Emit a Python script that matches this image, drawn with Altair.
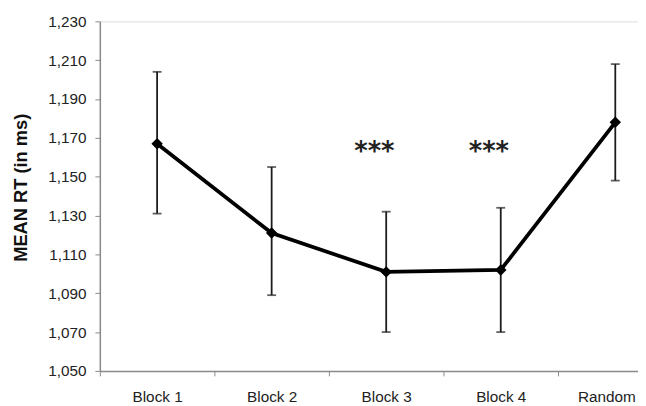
import altair as alt
import pandas as pd

categories = ["Block 1", "Block 2", "Block 3", "Block 4", "Random"]
mean_rt = [1167, 1121, 1101, 1102, 1178]
ci_low = [1131, 1089, 1070, 1070, 1148]
ci_high = [1204, 1155, 1132, 1134, 1208]
y_ticks = [1050, 1070, 1090, 1110, 1130, 1150, 1170, 1190, 1210, 1230]
sig_categories = ["Block 3", "Block 4"]
sig_marks = ["***", "***"]
sig_level = [1164, 1164]

df = pd.DataFrame({
    "category": categories,
    "mean": mean_rt,
    "low": ci_low,
    "high": ci_high,
})
sig = pd.DataFrame({
    "category": sig_categories,
    "label": sig_marks,
    "y": sig_level,
})

FONT = "Liberation Sans"
GRAY = "#8a8a8a"
yscale = alt.Scale(domain=[1050, 1230], nice=False, zero=False)
yaxis = alt.Axis(values=y_ticks, format=",d", title="MEAN RT (in ms)", grid=False,
                 labelFontSize=15.5, labelColor="#222222", labelPadding=9,
                 tickSize=5, tickColor=GRAY, domainColor=GRAY, domainWidth=1.5,
                 titleFontSize=18.5, titleFontWeight="bold", titleColor="#111111",
                 titleX=-70, titleY=168, titleAngle=270, titleBaseline="bottom",
                 titleAlign="center", titleFont=FONT, labelFont=FONT)
# the reference's category axis runs past the right edge of the picture
xb = alt.X("category:N", sort=categories,
           scale=alt.Scale(type="band", range=[0, 580], paddingInner=0, paddingOuter=0),
           axis=alt.Axis(title=None, labelAngle=0, tickBand="extent", tickSize=5,
                         tickColor=GRAY, domainColor=GRAY, domainWidth=1.5,
                         labelFontSize=15.5, labelColor="#222222", labelPadding=14,
                         labelOffset={"condition": {"test": "datum.label === 'Random'",
                                                    "value": -9},
                                      "value": 0},
                         labelFont=FONT, grid=False))

base = alt.Chart(df)
DARK = "#1c1c1c"

rules = base.mark_rule(color=DARK, strokeWidth=1.8).encode(
    x=xb, y=alt.Y("low:Q", scale=yscale, axis=yaxis), y2="high:Q")
cap_lo = base.mark_tick(orient="horizontal", size=9, thickness=1.8, color=DARK).encode(
    x=xb, y=alt.Y("low:Q", scale=yscale, axis=yaxis))
cap_hi = base.mark_tick(orient="horizontal", size=9, thickness=1.8, color=DARK).encode(
    x=xb, y=alt.Y("high:Q", scale=yscale, axis=yaxis))
line = base.mark_line(color="black", strokeWidth=3.8).encode(
    x=xb, y=alt.Y("mean:Q", scale=yscale, axis=yaxis))
pts = base.mark_point(shape="diamond", filled=True, size=135, color="black", opacity=1).encode(
    x=xb, y=alt.Y("mean:Q", scale=yscale, axis=yaxis))
stars = alt.Chart(sig).mark_text(fontSize=26, font="DejaVu Sans", fontWeight="bold",
                                 color="#222222", dx=-12, dy=11,
                                 baseline="alphabetic").encode(
    x=xb, y=alt.Y("y:Q", scale=yscale, axis=yaxis), text="label:N")

chart = alt.layer(rules, cap_lo, cap_hi, line, pts, stars).properties(
    width=545, height=354, autosize="none",
    padding={"left": 93, "top": 11, "right": 0, "bottom": 33},
).configure_view(stroke=None).configure(background="white")

chart.save("out.html", embed_options={"renderer": "svg", "actions": False})
